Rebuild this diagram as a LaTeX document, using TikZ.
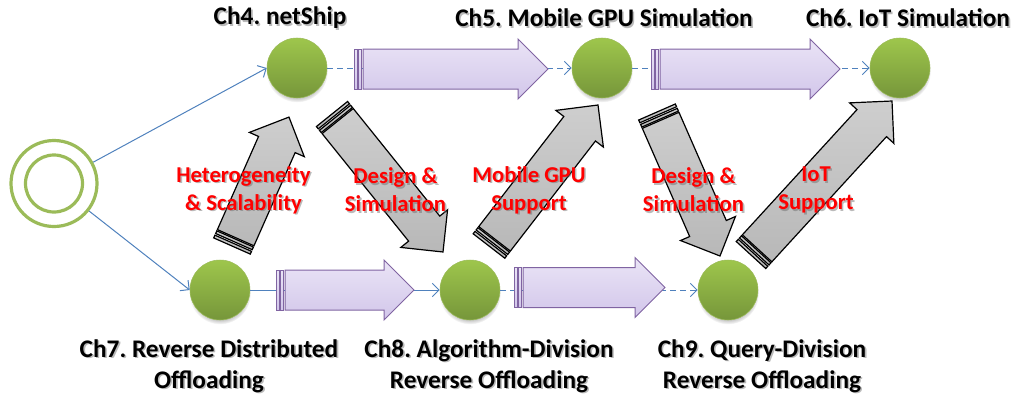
\documentclass[tikz,border=0pt]{standalone}
\usepackage{fontspec}
\setmainfont{Carlito}
\usetikzlibrary{arrows.meta,shadows}
\frenchspacing

\definecolor{lineblue}{HTML}{4F81BD}
\definecolor{ringgreen}{HTML}{9BBB59}
\definecolor{ballTop}{HTML}{9EC64C}
\definecolor{ballBot}{HTML}{76963A}
\definecolor{lilacTop}{HTML}{EAE4F6}
\definecolor{lilacBot}{HTML}{D2C6EA}
\definecolor{lilacEdge}{HTML}{8064A2}
\definecolor{steelTop}{HTML}{CECECE}
\definecolor{steelBot}{HTML}{B8B8B8}
\definecolor{labelred}{HTML}{FF0000}

\tikzset{
  chapter/.style={circle, minimum size=45pt, inner sep=0pt,
    top color=ballTop, bottom color=ballBot, draw=ringgreen, line width=0.4pt,
    circular drop shadow={shadow xshift=0pt, shadow yshift=-2.5pt,
      shadow scale=1.03, opacity=0.45}},
  ring/.style={circle, draw=ringgreen, line width=2.4pt, inner sep=0pt},
  title/.style={font=\bfseries\fontsize{19}{23.2}\selectfont, align=center, inner sep=0pt},
  note/.style={font=\bfseries\fontsize{17}{21}\selectfont, align=center, inner sep=0pt, text=labelred},
  flow/.style={draw=lineblue, line width=0.75pt,
    -{Straight Barb[length=5pt,width=10pt,line width=0.75pt]}},
  flowdash/.style={flow, dash pattern=on 4.5pt off 3pt},
  lilac/.style={draw=lilacEdge, line width=0.75pt, top color=lilacTop, bottom color=lilacBot},
  steel/.style={draw=black, line width=0.9pt, top color=steelTop, bottom color=steelBot},
}

% striped block arrow from tail centre #2 to tip #3, drawn with style #1
\newcommand\blockarrow[3]{%
  \path (#2) coordinate (ba-tail) (#3) coordinate (ba-tip);
  \pgfpointdiff{\pgfpointanchor{ba-tail}{center}}{\pgfpointanchor{ba-tip}{center}}%
  \pgfgetlastxy{\badx}{\bady}%
  \pgfmathsetmacro\baang{atan2(\bady,\badx)}%
  \pgfmathsetmacro\balen{veclen(\badx,\bady)}%
  \begin{scope}[shift={(ba-tail)}, rotate=\baang, x=1pt, y=1pt]
    \path[#1] (0,-15) rectangle (2.25,15);
    \path[#1] (3.6,-15) rectangle (5.8,15);
    \path[#1] (6.8,-15) -- (\balen-22.5,-15) -- (\balen-22.5,-22.5) -- (\balen,0)
      -- (\balen-22.5,22.5) -- (\balen-22.5,15) -- (6.8,15) -- cycle;
  \end{scope}}

% text with a soft grey shadow behind it
\newcommand\shadowtext[4]{%
  \node[#1, text=black!60, opacity=0.45] at ([shift={(1.6,1.6)}]#3) {#4};
  \node[#1] (#2) at (#3) {#4};}

\begin{document}
\begin{tikzpicture}[x=0.75pt, y=-0.75pt]
  \useasboundingbox (0,0) rectangle (1018,397);

  % start marker
  \node[ring, minimum size=64.5pt] (start) at (54,183.5) {};
  \node[ring, minimum size=42.75pt] (start-in) at (54,183.5) {};

  % chapter nodes
  \node[chapter] (ch4) at (297,68) {};
  \node[chapter] (ch5) at (602,68) {};
  \node[chapter] (ch6) at (900,68) {};
  \node[chapter] (ch7) at (220,290) {};
  \node[chapter] (ch8) at (470,290) {};
  \node[chapter] (ch9) at (728,290) {};

  % connectors
  \draw[flow] (start) -- (ch4.west);
  \draw[flow] (start) -- (ch7.west);
  \draw[flow] (ch7.east) -- (ch8.west);
  \draw[flowdash] (ch8.east) -- (ch9.west);
  \draw[flowdash] (ch4.east) -- (ch5.west);
  \draw[flowdash] (ch5.east) -- (ch6.west);

  % horizontal block arrows
  \blockarrow{lilac}{354,69}{548,69}
  \blockarrow{lilac}{651,69}{840,69}
  \blockarrow{lilac}{276,290}{414,290}
  \blockarrow{lilac}{514,287.5}{665,287.5}

  % diagonal block arrows
  \blockarrow{steel}{232,246}{289,117}
  \blockarrow{steel}{332,114}{443,252}
  \blockarrow{steel}{489,246}{598,105}
  \blockarrow{steel}{657,112}{720,256}
  \blockarrow{steel}{751,255}{892,101}

  % chapter titles
  \shadowtext{title}{t4}{280,18}{Ch4. netShip}
  \shadowtext{title}{t5}{604,18}{Ch5. Mobile GPU Simulation}
  \shadowtext{title}{t6}{908,18}{Ch6. IoT Simulation}
  \shadowtext{title}{t7}{209,366}{Ch7. Reverse Distributed\\Offloading}
  \shadowtext{title}{t8}{489,366}{Ch8. Algorithm-Division\\Reverse Offloading}
  \shadowtext{title}{t9}{762,366}{Ch9. Query-Division\\Reverse Offloading}

  % arrow labels
  \shadowtext{note}{n1}{243.5,190}{Heterogeneity\\\& Scalability}
  \shadowtext{note}{n2}{395.5,190}{Design \&\\Simulation}
  \shadowtext{note}{n3}{529,190}{Mobile GPU\\Support}
  \shadowtext{note}{n4}{693.5,190}{Design \&\\Simulation}
  \shadowtext{note}{n5}{816,190}{IoT\\Support}
\end{tikzpicture}
\end{document}
